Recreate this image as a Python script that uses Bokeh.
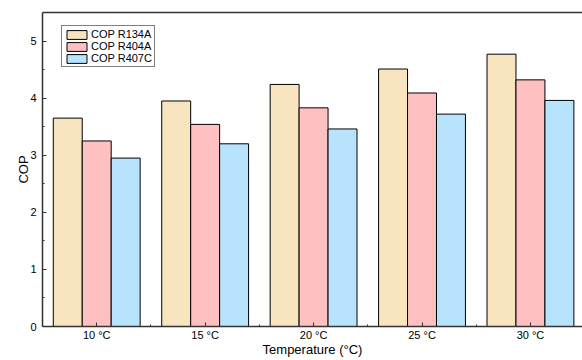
from bokeh.plotting import figure
from bokeh.models import ColumnDataSource, FixedTicker, LinearAxis, Range1d, Legend, LegendItem
from bokeh.transform import dodge
from bokeh.embed import file_html
from bokeh.resources import INLINE

temps = ["10 °C", "15 °C", "20 °C", "25 °C", "30 °C"]
positions = [1, 2, 3, 4, 5]
cop_r134a = [3.65, 3.95, 4.24, 4.51, 4.77]
cop_r404a = [3.25, 3.54, 3.83, 4.09, 4.32]
cop_r407c = [2.95, 3.20, 3.46, 3.72, 3.96]
series_names = ["COP R134A", "COP R404A", "COP R407C"]
colors = ["#F8E5C0", "#FFC0C1", "#B8E3FC"]

src = ColumnDataSource(dict(x=positions, r134a=cop_r134a, r404a=cop_r404a, r407c=cop_r407c))

FONT = "Liberation Sans"
p = figure(width=582, height=360, output_backend="svg", toolbar_location=None,
           x_range=Range1d(0.5, 5.48), y_range=Range1d(0, 5.5),
           min_border_left=42, min_border_right=0, min_border_top=12, min_border_bottom=34)
p.outline_line_color = None
p.grid.visible = False
p.background_fill_color = "white"
p.border_fill_color = "white"

bw = 0.267
renderers = []
for field, off, col in zip(["r134a", "r404a", "r407c"], [-bw, 0, bw], colors):
    r = p.vbar(x=dodge("x", off, range=p.x_range), top=field, width=bw, bottom=0, source=src,
               fill_color=col, line_color="black", line_width=1)
    renderers.append(r)

for ax in [p.xaxis[0], p.yaxis[0]]:
    ax.axis_line_color = "#333333"
    ax.axis_line_width = 1.5
    ax.major_tick_line_color = "#333333"
    ax.minor_tick_line_color = "#333333"
    ax.major_tick_in = 4
    ax.major_tick_out = 0
    ax.minor_tick_in = 2
    ax.minor_tick_out = 0
    ax.major_label_text_font = FONT
    ax.major_label_text_font_size = "11px"
    ax.major_label_text_color = "black"
    ax.axis_label_text_font = FONT
    ax.axis_label_text_font_size = "13px"
    ax.axis_label_text_font_style = "normal"
    ax.axis_label_text_color = "black"

p.xaxis[0].ticker = FixedTicker(ticks=positions, minor_ticks=[1.5, 2.5, 3.5, 4.5])
p.xaxis[0].major_label_overrides = {pos: t for pos, t in zip(positions, temps)}
p.xaxis[0].axis_label = "Temperature (°C)"
p.xaxis[0].major_label_standoff = 2
p.xaxis[0].axis_label_standoff = -2

p.yaxis[0].ticker = FixedTicker(ticks=[0, 1, 2, 3, 4, 5], minor_ticks=[0.5, 1.5, 2.5, 3.5, 4.5])
p.yaxis[0].axis_label = "COP"
p.yaxis[0].major_label_standoff = 6
p.yaxis[0].axis_label_standoff = -4

top = LinearAxis(ticker=FixedTicker(ticks=[]), major_label_text_font_size="0px",
                 major_tick_line_color=None, minor_tick_line_color=None,
                 axis_line_color="#333333", axis_line_width=1.5)
p.add_layout(top, "above")

legend = Legend(items=[LegendItem(label=n, renderers=[r]) for n, r in zip(series_names, renderers)],
                location=(19, 259))
legend.label_text_font = FONT
legend.label_text_font_size = "11px"
legend.label_text_color = "black"
legend.glyph_width = 25
legend.glyph_height = 11
legend.label_height = 11
legend.spacing = 0
legend.padding = 2
legend.margin = 0
legend.label_standoff = 2
legend.border_line_color = "black"
legend.border_line_width = 1
legend.background_fill_alpha = 1
p.add_layout(legend)

open("out.html", "w").write(file_html(p, INLINE))
